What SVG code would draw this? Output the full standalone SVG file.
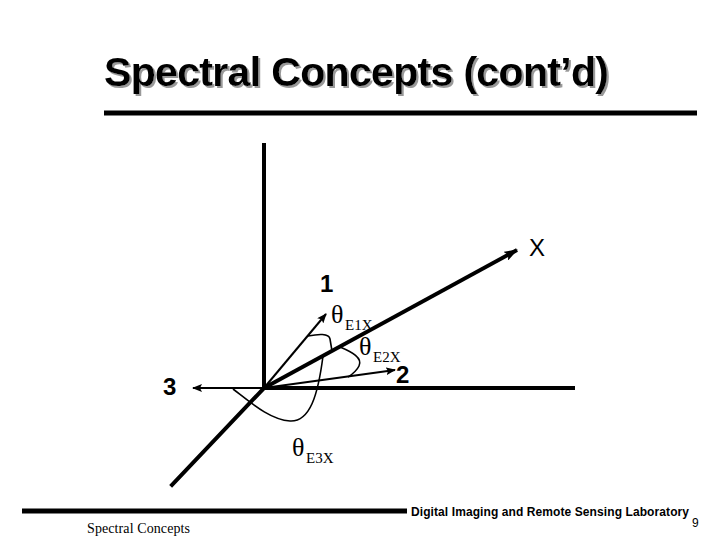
<svg xmlns="http://www.w3.org/2000/svg" width="720" height="540" viewBox="0 0 720 540">
<defs>
<style>
.ax{stroke:#000;stroke-width:4;fill:none;stroke-linecap:square}
.thin{stroke:#000;stroke-width:2;fill:none}
.crv{stroke:#000;stroke-width:1.6;fill:none}
.lbl{font-family:"Liberation Sans",Arial,sans-serif;font-size:24px;fill:#000}
.th{font-family:"Liberation Serif","Times New Roman",serif;font-size:26px;fill:#000}
.sub{font-family:"Liberation Serif","Times New Roman",serif;font-size:15px;fill:#000}
</style>
<filter id="shadow" x="-5%" y="-20%" width="110%" height="140%">
<feDropShadow dx="2" dy="2" stdDeviation="0" flood-color="#999" flood-opacity="1"/>
</filter>
<marker id="ah" markerWidth="10" markerHeight="8" refX="9" refY="4" orient="auto" markerUnits="userSpaceOnUse">
<path d="M0,0 L10,4 L0,8 L2,4 Z" fill="#000"/>
</marker>
<marker id="ahb" markerWidth="14" markerHeight="10" refX="13" refY="5" orient="auto" markerUnits="userSpaceOnUse">
<path d="M0,0 L14,5 L0,10 L3,5 Z" fill="#000"/>
</marker>
</defs>
<rect width="720" height="540" fill="#fff"/>
<g id="title">
<text x="104" y="86" font-family="'Liberation Sans',Arial,sans-serif" font-weight="bold" font-size="41" fill="#000" textLength="505" filter="url(#shadow)">Spectral Concepts (cont’d)</text>
<line x1="104" y1="113" x2="697" y2="113" stroke="#000" stroke-width="5"/>
</g>
<g id="connectors">
<line class="ax" x1="264" y1="145" x2="264" y2="388"/>
<line class="ax" x1="264" y1="388" x2="573" y2="388"/>
<line class="ax" x1="264" y1="388" x2="172" y2="485"/>
<line x1="264" y1="388" x2="517" y2="250" stroke="#000" stroke-width="4" marker-end="url(#ahb)"/>
<line class="thin" x1="264" y1="388" x2="193" y2="388" marker-end="url(#ah)"/>
<line class="thin" x1="264" y1="388" x2="326" y2="314" marker-end="url(#ah)"/>
<line class="thin" x1="264" y1="388" x2="395" y2="370" marker-end="url(#ah)"/>
<path class="crv" d="M308 336 C318 334 329 333 330 339 L332 351"/>
<path class="crv" d="M323 356 C318 395 310 422 290 421 C270 420 250 402 233 389"/>
<path class="crv" d="M340 347 C352 352 363 358 359 366 C356 372 351 375 348 377"/>
</g>
<g id="node-1"><text class="lbl" x="320" y="292" font-weight="bold">1</text></g>
<g id="node-2"><text class="lbl" x="396" y="383" font-weight="bold">2</text></g>
<g id="node-3"><text class="lbl" x="163" y="395" font-weight="bold">3</text></g>
<g id="node-x"><text class="lbl" x="529" y="256">X</text></g>
<g id="theta-e1x"><text class="th" x="331" y="323">θ</text><text class="sub" x="345" y="330">E1X</text></g>
<g id="theta-e2x"><text class="th" x="359" y="355">θ</text><text class="sub" x="373" y="362">E2X</text></g>
<g id="theta-e3x"><text class="th" x="292" y="456">θ</text><text class="sub" x="306" y="463">E3X</text></g>
<g id="footer">
<line x1="22" y1="511" x2="407" y2="511" stroke="#000" stroke-width="5"/>
<text x="411" y="516" font-family="'Liberation Sans',Arial,sans-serif" font-weight="bold" font-size="12" textLength="278">Digital Imaging and Remote Sensing Laboratory</text>
<text x="692" y="527" font-family="'Liberation Sans',Arial,sans-serif" font-size="12">9</text>
<text x="87" y="533" font-family="'Liberation Serif','Times New Roman',serif" font-size="14" textLength="103">Spectral Concepts</text>
</g>
</svg>
